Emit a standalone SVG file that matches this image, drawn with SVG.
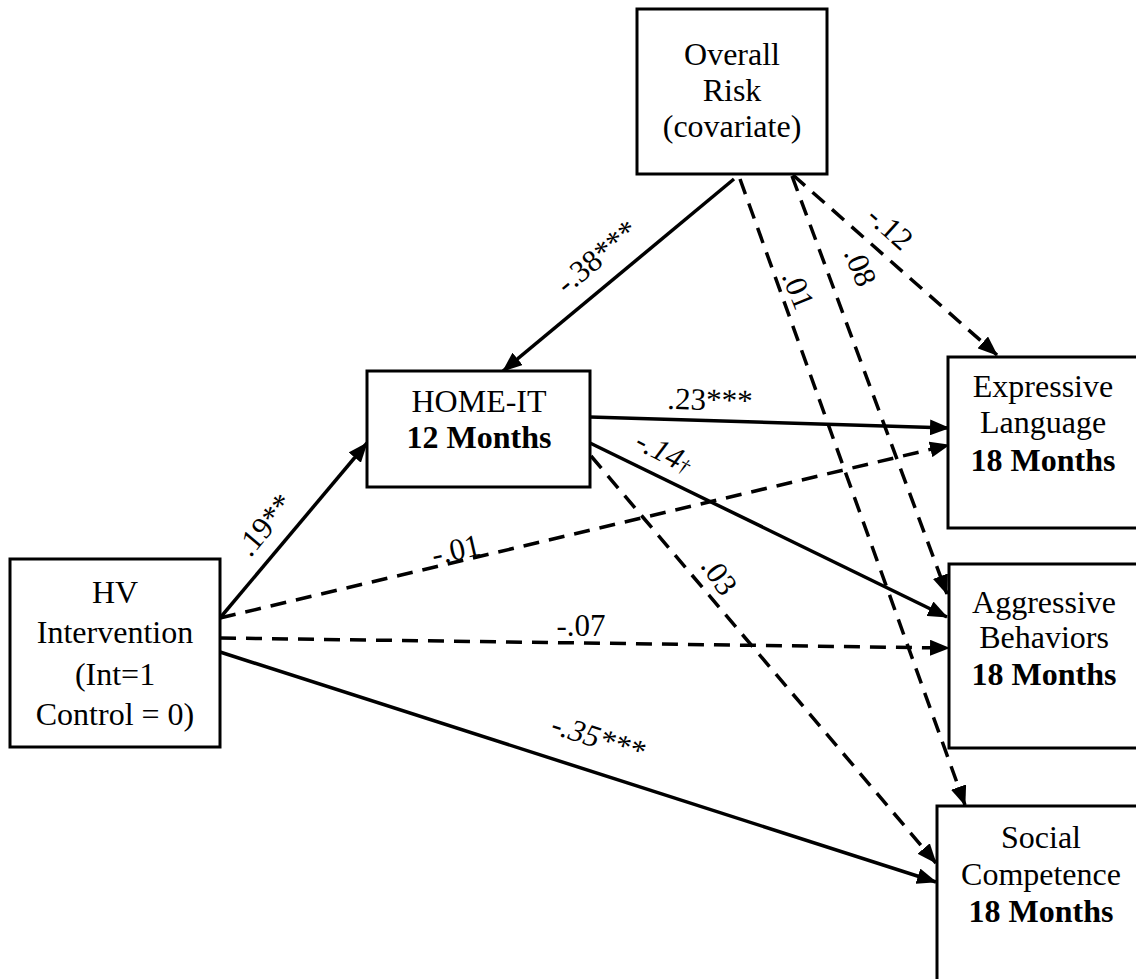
<svg xmlns="http://www.w3.org/2000/svg" width="1136" height="979" viewBox="0 0 1136 979">
<style>
.box{fill:#fff;stroke:#000;stroke-width:3}
.t{font-family:"Liberation Serif","Times New Roman",serif;font-size:32px;fill:#000;text-anchor:middle}
.b{font-weight:bold}
.lbl{font-family:"Liberation Serif","Times New Roman",serif;font-size:31px;fill:#000;text-anchor:middle}
.it{font-style:italic}
.c{fill:none;stroke:#000;stroke-width:3.5;marker-end:url(#ah)}
.d{stroke-dasharray:16 10}
</style>
<defs>
<marker id="ah" markerUnits="userSpaceOnUse" viewBox="0 0 20 16" markerWidth="20" markerHeight="16" refX="19" refY="8" orient="auto">
<path d="M0,0 L20,8 L0,16 z" fill="#000"/>
</marker>
</defs>
<rect width="1136" height="979" fill="#fff"/>
<g id="connectors">
<line class="c" x1="734" y1="179" x2="503" y2="371"/>
<line class="c d" x1="793" y1="175" x2="997" y2="355"/>
<line class="c d" x1="792" y1="176" x2="947" y2="594"/>
<line class="c d" x1="740" y1="179" x2="965" y2="805"/>
<line class="c" x1="220" y1="618" x2="367" y2="443"/>
<line class="c d" x1="220" y1="618" x2="949" y2="445"/>
<line class="c" x1="590" y1="417" x2="949" y2="428"/>
<line class="c" x1="590" y1="443" x2="947" y2="617"/>
<line class="c d" x1="591" y1="456" x2="936" y2="863"/>
<line class="c d" x1="220" y1="638" x2="949" y2="648"/>
<line class="c" x1="220" y1="652" x2="936" y2="882"/>
</g>
<g id="labels">
<text class="lbl" transform="translate(597,257) rotate(-39.7)" y="10">-.38***</text>
<text class="lbl" transform="translate(798,290) rotate(68)" y="10">.01</text>
<text class="lbl" transform="translate(860,267) rotate(68)" y="10">.08</text>
<text class="lbl" transform="translate(890,228) rotate(42)" y="10">-.12</text>
<text class="lbl" transform="translate(265,525) rotate(-50)" y="10">.19**</text>
<text class="lbl" transform="translate(456,550) rotate(-13)" y="10">-.01</text>
<text class="lbl" x="581" y="636">-.07</text>
<text class="lbl it" transform="translate(598,738) rotate(17.8)" y="10">-.35***</text>
<text class="lbl" transform="translate(710,400) rotate(1.8)" y="10">.23***</text>
<text class="lbl it" transform="translate(664,452) rotate(27)" y="10">-.14<tspan font-size="20">†</tspan></text>
<text class="lbl" transform="translate(719,576) rotate(55)" y="10">.03</text>
</g>
<g id="overall-risk">
<rect class="box" x="637" y="9" width="190" height="165"/>
<text class="t" x="732" y="65">Overall</text>
<text class="t" x="732" y="101">Risk</text>
<text class="t" x="732" y="137">(covariate)</text>
</g>
<g id="home-it">
<rect class="box" x="367" y="371" width="223" height="116"/>
<text class="t" x="479" y="412">HOME-IT</text>
<text class="t b" x="479" y="448">12 Months</text>
</g>
<g id="hv-intervention">
<rect class="box" x="10" y="559" width="210" height="188"/>
<text class="t" x="115" y="603">HV</text>
<text class="t" x="115" y="643">Intervention</text>
<text class="t" x="115" y="685">(Int=1</text>
<text class="t" x="115" y="725">Control = 0)</text>
</g>
<g id="expressive-language">
<rect class="box" x="948" y="357" width="192" height="171"/>
<text class="t" x="1043" y="397">Expressive</text>
<text class="t" x="1043" y="433">Language</text>
<text class="t b" x="1043" y="471">18 Months</text>
</g>
<g id="aggressive-behaviors">
<rect class="box" x="949" y="564" width="192" height="184"/>
<text class="t" x="1044" y="613">Aggressive</text>
<text class="t" x="1044" y="648">Behaviors</text>
<text class="t b" x="1044" y="685">18 Months</text>
</g>
<g id="social-competence">
<rect class="box" x="937" y="806" width="205" height="185"/>
<text class="t" x="1041" y="848">Social</text>
<text class="t" x="1041" y="885">Competence</text>
<text class="t b" x="1041" y="922">18 Months</text>
</g>
</svg>
